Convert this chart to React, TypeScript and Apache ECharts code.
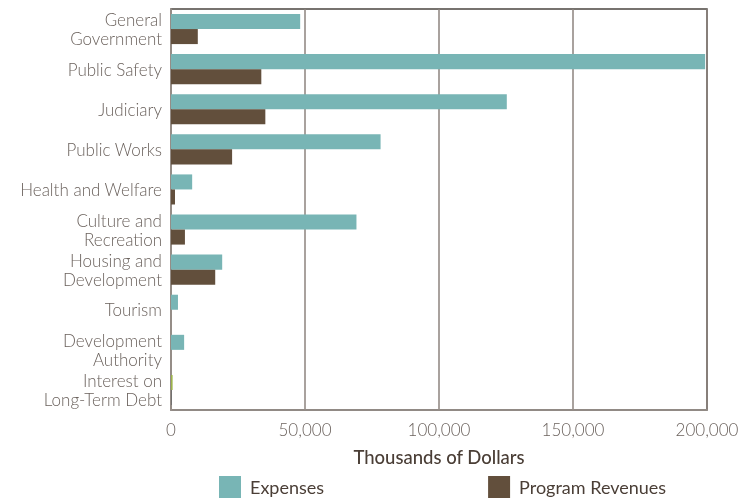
import React, { useEffect, useRef } from "react";
import * as echarts from "echarts";

const categories = [
  "General\nGovernment",
  "Public Safety",
  "Judiciary",
  "Public Works",
  "Health and Welfare",
  "Culture and\nRecreation",
  "Housing and\nDevelopment",
  "Tourism",
  "Development\nAuthority",
  "Interest on\nLong-Term Debt",
];
const expenses = [48200, 199300, 125300, 78200, 7900, 69200, 19100, 2600, 4900, 600];
const programRevenues = [10000, 33700, 35200, 22800, 1500, 5200, 16500, 0, 0, 300];
const xTicks = [0, 50000, 100000, 150000, 200000];

const TEAL = "#78b5b5";
const BROWN = "#624f3c";
const LABEL = "#6b625d";
const DARK = "#4a3e36";
const FONT = "Lato, 'Open Sans', sans-serif";

export default function App() {
  const ref = useRef<HTMLDivElement>(null);
  useEffect(() => {
    if (!ref.current) return;
    const chart = echarts.init(ref.current, undefined, { renderer: "svg" });
    const last = categories.length - 1;
    chart.setOption({
      animation: false,
      textStyle: { fontFamily: FONT },
      grid: {
        left: 171,
        right: 35,
        top: 9,
        bottom: 90,
        show: true,
        borderColor: "#4b4540",
        borderWidth: 1.5,
      },
      legend: {
        top: 476,
        left: 219,
        padding: 0,
        itemWidth: 22,
        itemHeight: 22,
        itemGap: 164,
        icon: "rect",
        textStyle: { fontSize: 18, color: DARK, fontFamily: FONT, padding: [0, 0, 0, 4] },
        data: ["Expenses", "Program Revenues"],
      },
      xAxis: {
        type: "value",
        min: xTicks[0],
        max: xTicks[xTicks.length - 1],
        interval: xTicks[1] - xTicks[0],
        name: "Thousands of Dollars",
        nameLocation: "middle",
        nameGap: 37,
        nameTextStyle: { fontSize: 18.5, color: DARK, fontFamily: FONT, fontWeight: 500 },
        axisLine: { show: true, lineStyle: { color: "#9a928d", width: 1.5 } },
        axisTick: { show: false },
        axisLabel: {
          fontSize: 17,
          color: LABEL,
          margin: 11,
          fontFamily: FONT,
          fontWeight: 300,
          formatter: (v: number) => v.toLocaleString("en-US"),
        },
        splitLine: { show: true, lineStyle: { color: "#8c837e", width: 1.5 } },
      },
      yAxis: {
        type: "category",
        inverse: true,
        data: categories,
        axisLine: { show: true, lineStyle: { color: "#9a928d", width: 1.5 } },
        axisTick: { show: false },
        axisLabel: {
          fontSize: 17,
          color: LABEL,
          margin: 9,
          lineHeight: 19,
          fontFamily: FONT,
          fontWeight: 300,
        },
      },
      series: [
        {
          name: "Expenses",
          type: "bar",
          barGap: "0%",
          barCategoryGap: "25%",
          itemStyle: { color: TEAL },
          data: expenses.map((v, i) =>
            i === last ? { value: v, itemStyle: { color: "#9cb34a" } } : v
          ),
        },
        {
          name: "Program Revenues",
          type: "bar",
          barGap: "0%",
          barCategoryGap: "25%",
          itemStyle: { color: BROWN },
          data: programRevenues.map((v, i) =>
            i === last ? { value: v, itemStyle: { color: "#6a6a6a" } } : v
          ),
        },
      ],
    });
    return () => chart.dispose();
  }, []);
  return (
    <div
      ref={ref}
      style={{ position: "fixed", left: 0, top: 0, width: 742, height: 500 }}
    />
  );
}
